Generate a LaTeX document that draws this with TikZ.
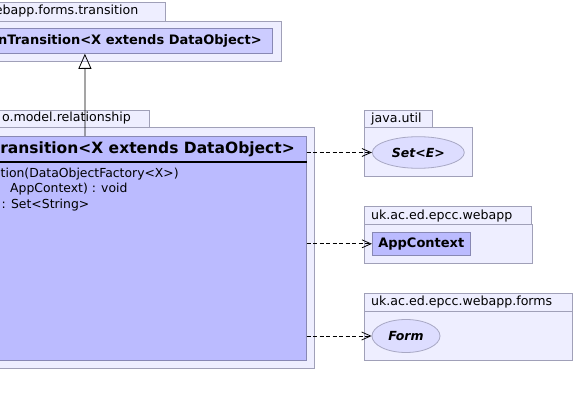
\documentclass[tikz,border=0pt]{standalone}
\usepackage{fontspec}
\setmainfont{DejaVu Sans}
\definecolor{PkgFill}   {RGB}{238,238,255}
\definecolor{PkgLine}   {RGB}{160,160,184}
\definecolor{ClassFill} {RGB}{187,187,255}
\definecolor{ClassLight}{RGB}{204,204,255}
\definecolor{ClassLine} {RGB}{136,136,180}
\definecolor{IfaceFill} {RGB}{221,221,255}
\definecolor{IfaceLine} {RGB}{168,168,196}
\usetikzlibrary{arrows.meta,positioning,shapes.geometric}

\begin{document}
\begin{tikzpicture}[x=1pt,y=-1pt,
  pkg/.style={draw=PkgLine,fill=PkgFill,line width=0.8pt},
  pkglabel/.style={font=\fontsize{12.6}{15}\selectfont,inner sep=0pt,anchor=base west},
  classbox/.style={draw=ClassLine,fill=ClassFill,line width=0.8pt,inner sep=0pt},
  iface/.style={ellipse,draw=IfaceLine,fill=IfaceFill,line width=0.8pt,inner sep=0pt,
                font=\fontsize{12.5}{15}\selectfont\bfseries\itshape},
  member/.style={font=\fontsize{12.4}{15}\selectfont,inner sep=0pt,anchor=base west},
  dep/.style={dash pattern=on 4pt off 2.5pt,line width=0.8pt,
              -{Straight Barb[length=9pt,width=8pt]}},
  inherit/.style={line width=0.8pt,-{Triangle[open,length=15pt,width=13pt]}}]
  \useasboundingbox (0,0) rectangle (575,406);
  \clip (0,0) rectangle (575,406);
  %% package ...webapp.forms.transition (top, cut at the left edge)
  \draw[pkg](-150,2.5) rectangle (165,21);
  \draw[pkg](-150,21) rectangle (281,61);
  \node[pkglabel,anchor=base east] (transpkglabel) at (138.5,15) {ebapp.forms.transition};
  \node[classbox,fill=ClassLight,minimum width=375.4,minimum height=25,anchor=north east]
       (formtrans) at (273,28) {};
  \node[font=\fontsize{13}{15}\selectfont\bfseries,inner sep=0pt,anchor=east]
       (formtranslabel) at (262,40.5) {nTransition<X extends DataObject>};
  %% package ...model.relationship
  \draw[pkg](-150,110) rectangle (149,127);
  \draw[pkg](-150,127) rectangle (314,368);
  \node[pkglabel,anchor=base east] (relpkglabel) at (131,122) {o.model.relationship};
  \node[classbox,minimum width=442.7,minimum height=224,anchor=north east]
       (reltrans) at (306.7,136) {};
  \coordinate (hdrline) at (0,162);
  \draw[line width=1.6pt](reltrans.west |- hdrline) -- (reltrans.east |- hdrline);
  \node[font=\fontsize{15.5}{18}\selectfont\bfseries,inner sep=0pt,anchor=east]
       (reltranslabel) at (295,149) {ransition<X extends DataObject>};
  \node[member] (ctor)   at (0.5,177.5) {tion(DataObjectFactory<X>)};
  \node[member] (opvoid) at (10,193)    {AppContext) : void};
  \node[member] (opset)  at (1.5,208.5) {: Set<String>};
  %% package java.util
  \draw[pkg](364,110) rectangle (432.5,127);
  \draw[pkg](364,127) rectangle (472.7,176.7);
  \node[pkglabel] (utilpkglabel) at (371,122.3) {java.util};
  \node[iface,minimum width=92,minimum height=31.6] (setE) at (418.3,152.5) {Set<E>};
  %% package uk.ac.ed.epcc.webapp
  \draw[pkg](364,206.7) rectangle (531,224.3);
  \draw[pkg](364,224.3) rectangle (532.7,263.3);
  \node[pkglabel] (webapppkglabel) at (371,219) {uk.ac.ed.epcc.webapp};
  \node[classbox,minimum width=98,minimum height=23,
        font=\fontsize{13}{15}\selectfont\bfseries] (appctx) at (421.3,243.8) {AppContext};
  %% package uk.ac.ed.epcc.webapp.forms
  \draw[pkg](364,293.3) rectangle (572.7,311.7);
  \draw[pkg](364,311.7) rectangle (572.7,360);
  \node[pkglabel] (formspkglabel) at (371,305.6) {uk.ac.ed.epcc.webapp.forms};
  \node[iface,minimum width=68,minimum height=33] (form) at (406,336) {Form};
  %% generalisation
  \draw[inherit](reltrans.north) -- (formtrans.south);
  %% dependencies
  \draw[dep](reltrans.east |- setE.west) -- (setE.west);
  \draw[dep](reltrans.east |- appctx.west) -- (appctx.west);
  \draw[dep](reltrans.east |- form.west) -- (form.west);
\end{tikzpicture}
\end{document}
